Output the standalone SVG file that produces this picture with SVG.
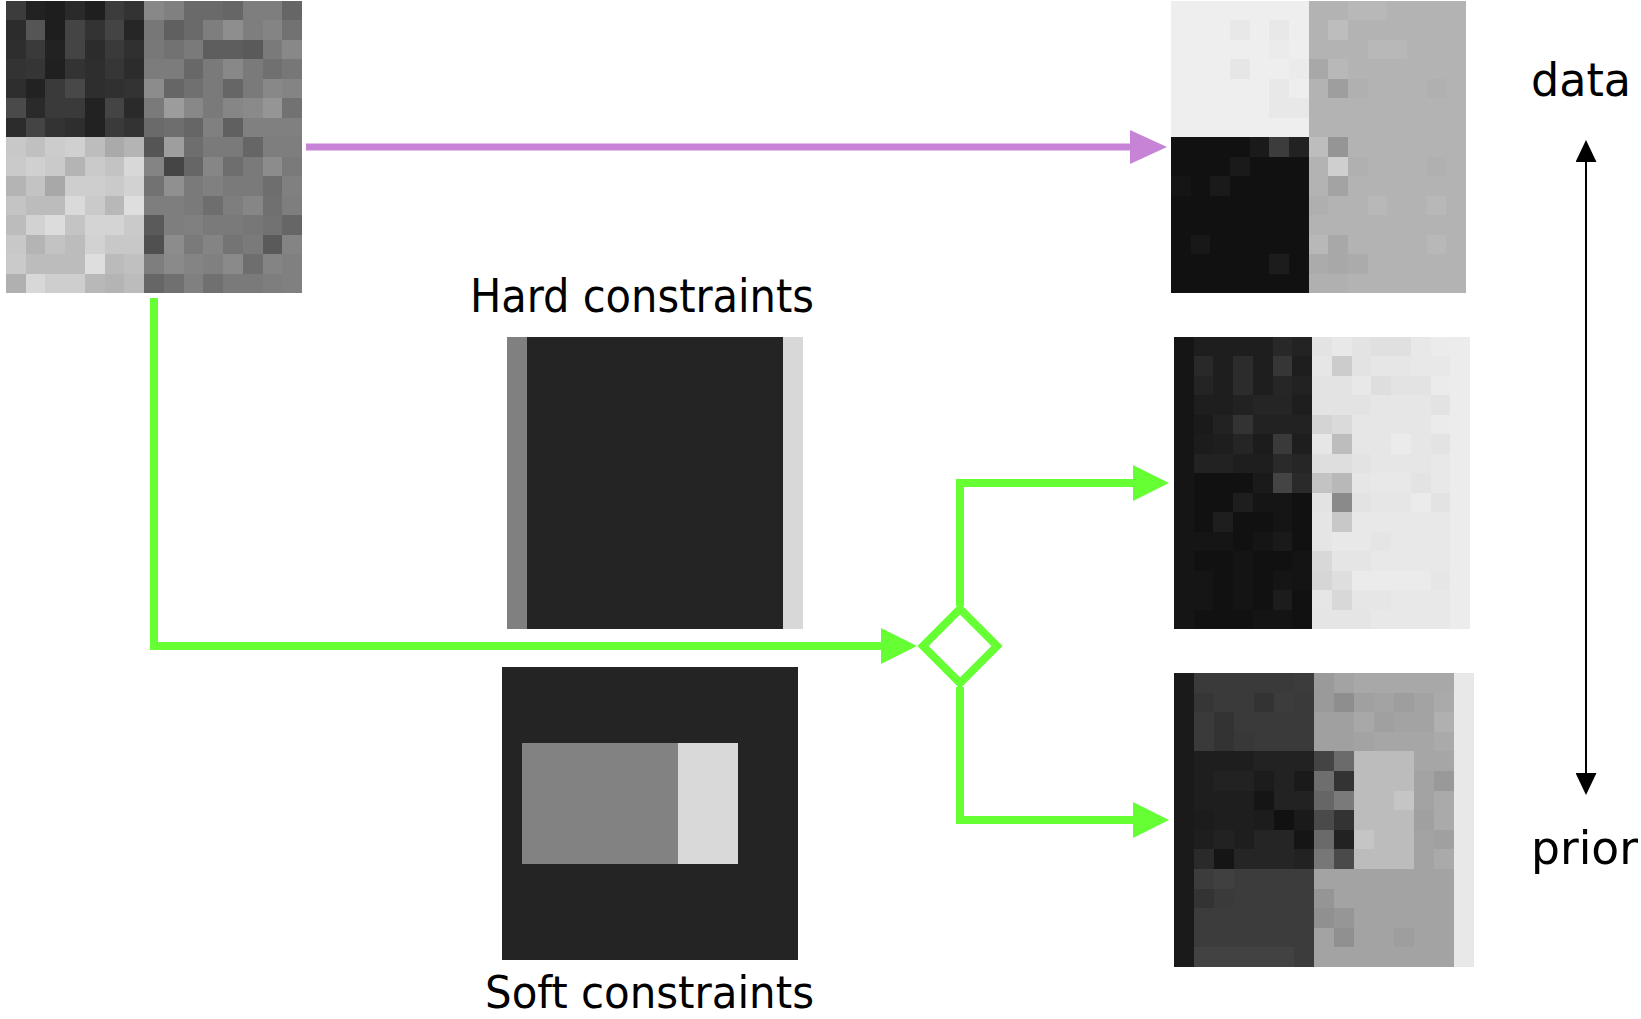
<svg xmlns="http://www.w3.org/2000/svg" width="1641" height="1019" viewBox="0 0 1641 1019">
<style>
.px{shape-rendering:crispEdges}
.lbl{font-family:"DejaVu Sans Condensed","DejaVu Sans",sans-serif;font-size:46px;fill:#000}
.gl{fill:none;stroke:#66ff33;stroke-width:8;stroke-linejoin:miter}
.pl{fill:none;stroke:#c783d5;stroke-width:7}
.bl{fill:none;stroke:#000;stroke-width:2}
</style>
<defs>
<marker id="ag" markerUnits="userSpaceOnUse" viewBox="0 0 36 36" refX="6" refY="18" markerWidth="36" markerHeight="36" orient="auto"><path d="M0,0 L36,18 L0,36 z" fill="#66ff33"/></marker>
<marker id="ap" markerUnits="userSpaceOnUse" viewBox="0 0 37 34" refX="6" refY="17" markerWidth="37" markerHeight="34" orient="auto"><path d="M0,0 L37,17 L0,34 z" fill="#c783d5"/></marker>
<marker id="ab" markerUnits="userSpaceOnUse" viewBox="0 0 22 21" refX="2" refY="10.5" markerWidth="22" markerHeight="21" orient="auto-start-reverse"><path d="M0,0 L22,10.5 L0,21 z" fill="#000"/></marker>
</defs>
<rect width="1641" height="1019" fill="#fff"/>

<g id="input-matrix" class="px" transform="translate(6,1) scale(19.733,19.467)">
<rect width="7" height="7" fill="#333"/><rect y="7" width="7" height="8" fill="#c4c4c4"/><rect x="7" width="8" height="15" fill="#777"/>
<rect x="0" y="0" width="1" height="1" fill="#3c3c3c"/><rect x="1" y="0" width="1" height="1" fill="#222"/><rect x="2" y="0" width="1" height="1" fill="#1e1e1e"/><rect x="3" y="0" width="1" height="1" fill="#2a2a2a"/><rect x="4" y="0" width="1" height="1" fill="#1f1f1f"/><rect x="5" y="0" width="1" height="1" fill="#3c3c3c"/><rect x="6" y="0" width="1" height="1" fill="#333"/><rect x="7" y="0" width="1" height="1" fill="#888"/><rect x="8" y="0" width="1" height="1" fill="#808080"/><rect x="9" y="0" width="1" height="1" fill="#6a6a6a"/><rect x="10" y="0" width="1" height="1" fill="#6a6a6a"/><rect x="11" y="0" width="1" height="1" fill="#666"/><rect x="12" y="0" width="1" height="1" fill="#7e7e7e"/><rect x="13" y="0" width="1" height="1" fill="#7e7e7e"/><rect x="14" y="0" width="1" height="1" fill="#666"/>
<rect x="0" y="1" width="1" height="1" fill="#2c2c2c"/><rect x="1" y="1" width="1" height="1" fill="#555"/><rect x="2" y="1" width="1" height="1" fill="#1e1e1e"/><rect x="3" y="1" width="1" height="1" fill="#444"/><rect x="4" y="1" width="1" height="1" fill="#333"/><rect x="5" y="1" width="1" height="1" fill="#444"/><rect x="6" y="1" width="1" height="1" fill="#262626"/><rect x="7" y="1" width="1" height="1" fill="#777"/><rect x="8" y="1" width="1" height="1" fill="#606060"/><rect x="9" y="1" width="1" height="1" fill="#6a6a6a"/><rect x="10" y="1" width="1" height="1" fill="#7e7e7e"/><rect x="11" y="1" width="1" height="1" fill="#8e8e8e"/><rect x="12" y="1" width="1" height="1" fill="#7e7e7e"/><rect x="13" y="1" width="1" height="1" fill="#848484"/><rect x="14" y="1" width="1" height="1" fill="#727272"/>
<rect x="0" y="2" width="1" height="1" fill="#2e2e2e"/><rect x="1" y="2" width="1" height="1" fill="#3a3a3a"/><rect x="2" y="2" width="1" height="1" fill="#222"/><rect x="3" y="2" width="1" height="1" fill="#444"/><rect x="4" y="2" width="1" height="1" fill="#2c2c2c"/><rect x="5" y="2" width="1" height="1" fill="#3a3a3a"/><rect x="6" y="2" width="1" height="1" fill="#303030"/><rect x="7" y="2" width="1" height="1" fill="#787878"/><rect x="8" y="2" width="1" height="1" fill="#727272"/><rect x="9" y="2" width="1" height="1" fill="#7a7a7a"/><rect x="10" y="2" width="1" height="1" fill="#5e5e5e"/><rect x="11" y="2" width="1" height="1" fill="#5e5e5e"/><rect x="12" y="2" width="1" height="1" fill="#5a5a5a"/><rect x="13" y="2" width="1" height="1" fill="#7a7a7a"/><rect x="14" y="2" width="1" height="1" fill="#888"/>
<rect x="0" y="3" width="1" height="1" fill="#333"/><rect x="1" y="3" width="1" height="1" fill="#353535"/><rect x="2" y="3" width="1" height="1" fill="#202020"/><rect x="3" y="3" width="1" height="1" fill="#333"/><rect x="4" y="3" width="1" height="1" fill="#2e2e2e"/><rect x="5" y="3" width="1" height="1" fill="#363636"/><rect x="6" y="3" width="1" height="1" fill="#2c2c2c"/><rect x="7" y="3" width="1" height="1" fill="#7c7c7c"/><rect x="8" y="3" width="1" height="1" fill="#7c7c7c"/><rect x="9" y="3" width="1" height="1" fill="#686868"/><rect x="10" y="3" width="1" height="1" fill="#7a7a7a"/><rect x="11" y="3" width="1" height="1" fill="#888"/><rect x="12" y="3" width="1" height="1" fill="#7a7a7a"/><rect x="13" y="3" width="1" height="1" fill="#707070"/><rect x="14" y="3" width="1" height="1" fill="#777"/>
<rect x="0" y="4" width="1" height="1" fill="#2e2e2e"/><rect x="1" y="4" width="1" height="1" fill="#222"/><rect x="2" y="4" width="1" height="1" fill="#3a3a3a"/><rect x="3" y="4" width="1" height="1" fill="#484848"/><rect x="4" y="4" width="1" height="1" fill="#2e2e2e"/><rect x="5" y="4" width="1" height="1" fill="#303030"/><rect x="6" y="4" width="1" height="1" fill="#333"/><rect x="7" y="4" width="1" height="1" fill="#8c8c8c"/><rect x="8" y="4" width="1" height="1" fill="#666"/><rect x="9" y="4" width="1" height="1" fill="#707070"/><rect x="10" y="4" width="1" height="1" fill="#7a7a7a"/><rect x="11" y="4" width="1" height="1" fill="#666"/><rect x="12" y="4" width="1" height="1" fill="#7a7a7a"/><rect x="13" y="4" width="1" height="1" fill="#888"/><rect x="14" y="4" width="1" height="1" fill="#848484"/>
<rect x="0" y="5" width="1" height="1" fill="#4a4a4a"/><rect x="1" y="5" width="1" height="1" fill="#2a2a2a"/><rect x="2" y="5" width="1" height="1" fill="#3a3a3a"/><rect x="3" y="5" width="1" height="1" fill="#3a3a3a"/><rect x="4" y="5" width="1" height="1" fill="#222"/><rect x="5" y="5" width="1" height="1" fill="#444"/><rect x="6" y="5" width="1" height="1" fill="#2a2a2a"/><rect x="7" y="5" width="1" height="1" fill="#7a7a7a"/><rect x="8" y="5" width="1" height="1" fill="#9c9c9c"/><rect x="9" y="5" width="1" height="1" fill="#888"/><rect x="10" y="5" width="1" height="1" fill="#7a7a7a"/><rect x="11" y="5" width="1" height="1" fill="#868686"/><rect x="12" y="5" width="1" height="1" fill="#8a8a8a"/><rect x="13" y="5" width="1" height="1" fill="#959595"/><rect x="14" y="5" width="1" height="1" fill="#727272"/>
<rect x="0" y="6" width="1" height="1" fill="#2c2c2c"/><rect x="1" y="6" width="1" height="1" fill="#444"/><rect x="2" y="6" width="1" height="1" fill="#333"/><rect x="3" y="6" width="1" height="1" fill="#2e2e2e"/><rect x="4" y="6" width="1" height="1" fill="#222"/><rect x="5" y="6" width="1" height="1" fill="#3a3a3a"/><rect x="6" y="6" width="1" height="1" fill="#333"/><rect x="7" y="6" width="1" height="1" fill="#6a6a6a"/><rect x="8" y="6" width="1" height="1" fill="#6e6e6e"/><rect x="9" y="6" width="1" height="1" fill="#666"/><rect x="10" y="6" width="1" height="1" fill="#808080"/><rect x="11" y="6" width="1" height="1" fill="#606060"/><rect x="12" y="6" width="1" height="1" fill="#808080"/><rect x="13" y="6" width="1" height="1" fill="#808080"/><rect x="14" y="6" width="1" height="1" fill="#808080"/>
<rect x="0" y="7" width="1" height="1" fill="#c8c8c8"/><rect x="1" y="7" width="1" height="1" fill="#c0c0c0"/><rect x="2" y="7" width="1" height="1" fill="#ccc"/><rect x="3" y="7" width="1" height="1" fill="#d0d0d0"/><rect x="4" y="7" width="1" height="1" fill="#bdbdbd"/><rect x="5" y="7" width="1" height="1" fill="#aaa"/><rect x="6" y="7" width="1" height="1" fill="#b4b4b4"/><rect x="7" y="7" width="1" height="1" fill="#555"/><rect x="8" y="7" width="1" height="1" fill="#9e9e9e"/><rect x="9" y="7" width="1" height="1" fill="#6e6e6e"/><rect x="10" y="7" width="1" height="1" fill="#7a7a7a"/><rect x="11" y="7" width="1" height="1" fill="#7a7a7a"/><rect x="12" y="7" width="1" height="1" fill="#666"/><rect x="13" y="7" width="1" height="1" fill="#7e7e7e"/><rect x="14" y="7" width="1" height="1" fill="#7e7e7e"/>
<rect x="0" y="8" width="1" height="1" fill="#cacaca"/><rect x="1" y="8" width="1" height="1" fill="#d0d0d0"/><rect x="2" y="8" width="1" height="1" fill="#cacaca"/><rect x="3" y="8" width="1" height="1" fill="#b4b4b4"/><rect x="4" y="8" width="1" height="1" fill="#cacaca"/><rect x="5" y="8" width="1" height="1" fill="#c3c3c3"/><rect x="6" y="8" width="1" height="1" fill="#d8d8d8"/><rect x="7" y="8" width="1" height="1" fill="#848484"/><rect x="8" y="8" width="1" height="1" fill="#454545"/><rect x="9" y="8" width="1" height="1" fill="#666"/><rect x="10" y="8" width="1" height="1" fill="#868686"/><rect x="11" y="8" width="1" height="1" fill="#6e6e6e"/><rect x="12" y="8" width="1" height="1" fill="#7a7a7a"/><rect x="13" y="8" width="1" height="1" fill="#8c8c8c"/><rect x="14" y="8" width="1" height="1" fill="#7a7a7a"/>
<rect x="0" y="9" width="1" height="1" fill="#b4b4b4"/><rect x="1" y="9" width="1" height="1" fill="#c3c3c3"/><rect x="2" y="9" width="1" height="1" fill="#a8a8a8"/><rect x="3" y="9" width="1" height="1" fill="#cecece"/><rect x="4" y="9" width="1" height="1" fill="#cecece"/><rect x="5" y="9" width="1" height="1" fill="#cacaca"/><rect x="6" y="9" width="1" height="1" fill="#d2d2d2"/><rect x="7" y="9" width="1" height="1" fill="#727272"/><rect x="8" y="9" width="1" height="1" fill="#909090"/><rect x="9" y="9" width="1" height="1" fill="#7a7a7a"/><rect x="10" y="9" width="1" height="1" fill="#808080"/><rect x="11" y="9" width="1" height="1" fill="#7a7a7a"/><rect x="12" y="9" width="1" height="1" fill="#7a7a7a"/><rect x="13" y="9" width="1" height="1" fill="#6e6e6e"/><rect x="14" y="9" width="1" height="1" fill="#808080"/>
<rect x="0" y="10" width="1" height="1" fill="#c4c4c4"/><rect x="1" y="10" width="1" height="1" fill="#bcbcbc"/><rect x="2" y="10" width="1" height="1" fill="#bcbcbc"/><rect x="3" y="10" width="1" height="1" fill="#dadada"/><rect x="4" y="10" width="1" height="1" fill="#cacaca"/><rect x="5" y="10" width="1" height="1" fill="#b8b8b8"/><rect x="6" y="10" width="1" height="1" fill="#dedede"/><rect x="7" y="10" width="1" height="1" fill="#7e7e7e"/><rect x="8" y="10" width="1" height="1" fill="#7e7e7e"/><rect x="9" y="10" width="1" height="1" fill="#7a7a7a"/><rect x="10" y="10" width="1" height="1" fill="#6e6e6e"/><rect x="11" y="10" width="1" height="1" fill="#7e7e7e"/><rect x="12" y="10" width="1" height="1" fill="#868686"/><rect x="13" y="10" width="1" height="1" fill="#707070"/><rect x="14" y="10" width="1" height="1" fill="#7e7e7e"/>
<rect x="0" y="11" width="1" height="1" fill="#bcbcbc"/><rect x="1" y="11" width="1" height="1" fill="#d2d2d2"/><rect x="2" y="11" width="1" height="1" fill="#dcdcdc"/><rect x="3" y="11" width="1" height="1" fill="#c4c4c4"/><rect x="4" y="11" width="1" height="1" fill="#d4d4d4"/><rect x="5" y="11" width="1" height="1" fill="#d4d4d4"/><rect x="6" y="11" width="1" height="1" fill="#cacaca"/><rect x="7" y="11" width="1" height="1" fill="#5a5a5a"/><rect x="8" y="11" width="1" height="1" fill="#7e7e7e"/><rect x="9" y="11" width="1" height="1" fill="#808080"/><rect x="10" y="11" width="1" height="1" fill="#7a7a7a"/><rect x="11" y="11" width="1" height="1" fill="#7a7a7a"/><rect x="12" y="11" width="1" height="1" fill="#777"/><rect x="13" y="11" width="1" height="1" fill="#727272"/><rect x="14" y="11" width="1" height="1" fill="#666"/>
<rect x="0" y="12" width="1" height="1" fill="#c8c8c8"/><rect x="1" y="12" width="1" height="1" fill="#b4b4b4"/><rect x="2" y="12" width="1" height="1" fill="#c3c3c3"/><rect x="3" y="12" width="1" height="1" fill="#bcbcbc"/><rect x="4" y="12" width="1" height="1" fill="#d2d2d2"/><rect x="5" y="12" width="1" height="1" fill="#c8c8c8"/><rect x="6" y="12" width="1" height="1" fill="#c8c8c8"/><rect x="7" y="12" width="1" height="1" fill="#505050"/><rect x="8" y="12" width="1" height="1" fill="#8c8c8c"/><rect x="9" y="12" width="1" height="1" fill="#7a7a7a"/><rect x="10" y="12" width="1" height="1" fill="#848484"/><rect x="11" y="12" width="1" height="1" fill="#747474"/><rect x="12" y="12" width="1" height="1" fill="#7a7a7a"/><rect x="13" y="12" width="1" height="1" fill="#5a5a5a"/><rect x="14" y="12" width="1" height="1" fill="#848484"/>
<rect x="0" y="13" width="1" height="1" fill="#cacaca"/><rect x="1" y="13" width="1" height="1" fill="#bcbcbc"/><rect x="2" y="13" width="1" height="1" fill="#bcbcbc"/><rect x="3" y="13" width="1" height="1" fill="#bcbcbc"/><rect x="4" y="13" width="1" height="1" fill="#dedede"/><rect x="5" y="13" width="1" height="1" fill="#bbb"/><rect x="6" y="13" width="1" height="1" fill="#c0c0c0"/><rect x="7" y="13" width="1" height="1" fill="#7e7e7e"/><rect x="8" y="13" width="1" height="1" fill="#8a8a8a"/><rect x="9" y="13" width="1" height="1" fill="#848484"/><rect x="10" y="13" width="1" height="1" fill="#808080"/><rect x="11" y="13" width="1" height="1" fill="#8a8a8a"/><rect x="12" y="13" width="1" height="1" fill="#6e6e6e"/><rect x="13" y="13" width="1" height="1" fill="#848484"/><rect x="14" y="13" width="1" height="1" fill="#808080"/>
<rect x="0" y="14" width="1" height="1" fill="#b0b0b0"/><rect x="1" y="14" width="1" height="1" fill="#d8d8d8"/><rect x="2" y="14" width="1" height="1" fill="#cecece"/><rect x="3" y="14" width="1" height="1" fill="#cecece"/><rect x="4" y="14" width="1" height="1" fill="#b8b8b8"/><rect x="5" y="14" width="1" height="1" fill="#b4b4b4"/><rect x="6" y="14" width="1" height="1" fill="#bcbcbc"/><rect x="7" y="14" width="1" height="1" fill="#666"/><rect x="8" y="14" width="1" height="1" fill="#707070"/><rect x="9" y="14" width="1" height="1" fill="#808080"/><rect x="10" y="14" width="1" height="1" fill="#707070"/><rect x="11" y="14" width="1" height="1" fill="#7a7a7a"/><rect x="12" y="14" width="1" height="1" fill="#7a7a7a"/><rect x="13" y="14" width="1" height="1" fill="#7e7e7e"/><rect x="14" y="14" width="1" height="1" fill="#808080"/>
</g>

<g id="result-data" class="px" transform="translate(1171,1) scale(19.667,19.467)">
<rect width="7" height="7" fill="#eee"/><rect y="7" width="7" height="8" fill="#111"/><rect x="7" width="8" height="15" fill="#b3b3b3"/>
<rect x="3" y="1" width="1" height="1" fill="#e8e8e8"/><rect x="5" y="1" width="1" height="1" fill="#e8e8e8"/><rect x="5" y="2" width="1" height="1" fill="#ebebeb"/><rect x="3" y="3" width="1" height="1" fill="#e6e6e6"/><rect x="6" y="3" width="1" height="1" fill="#ebebeb"/><rect x="5" y="4" width="1" height="1" fill="#e8e8e8"/><rect x="5" y="5" width="1" height="1" fill="#e8e8e8"/><rect x="6" y="5" width="1" height="1" fill="#e8e8e8"/>
<rect x="9" y="0" width="1" height="1" fill="#b8b8b8"/><rect x="10" y="0" width="1" height="1" fill="#b8b8b8"/><rect x="8" y="1" width="1" height="1" fill="#bdbdbd"/><rect x="10" y="2" width="1" height="1" fill="#b8b8b8"/><rect x="11" y="2" width="1" height="1" fill="#b8b8b8"/><rect x="7" y="3" width="1" height="1" fill="#a8a8a8"/><rect x="8" y="3" width="1" height="1" fill="#b8b8b8"/><rect x="8" y="4" width="1" height="1" fill="#9e9e9e"/><rect x="9" y="4" width="1" height="1" fill="#b0b0b0"/><rect x="13" y="4" width="1" height="1" fill="#b0b0b0"/><rect x="7" y="7" width="1" height="1" fill="#bdbdbd"/><rect x="8" y="7" width="1" height="1" fill="#959595"/><rect x="8" y="8" width="1" height="1" fill="#cfcfcf"/><rect x="9" y="8" width="1" height="1" fill="#b0b0b0"/><rect x="13" y="8" width="1" height="1" fill="#b0b0b0"/><rect x="8" y="9" width="1" height="1" fill="#a3a3a3"/><rect x="7" y="10" width="1" height="1" fill="#afafaf"/><rect x="10" y="10" width="1" height="1" fill="#b8b8b8"/><rect x="13" y="10" width="1" height="1" fill="#b8b8b8"/><rect x="7" y="12" width="1" height="1" fill="#b8b8b8"/><rect x="8" y="12" width="1" height="1" fill="#a8a8a8"/><rect x="13" y="12" width="1" height="1" fill="#b8b8b8"/><rect x="7" y="13" width="1" height="1" fill="#ababab"/><rect x="8" y="13" width="1" height="1" fill="#a8a8a8"/><rect x="9" y="13" width="1" height="1" fill="#ababab"/><rect x="7" y="14" width="1" height="1" fill="#b0b0b0"/><rect x="8" y="14" width="1" height="1" fill="#b0b0b0"/>
<rect x="4" y="7" width="1" height="1" fill="#1a1a1a"/><rect x="5" y="7" width="1" height="1" fill="#3c3c3c"/><rect x="6" y="7" width="1" height="1" fill="#222"/><rect x="3" y="8" width="1" height="1" fill="#1a1a1a"/><rect x="0" y="9" width="1" height="1" fill="#151515"/><rect x="2" y="9" width="1" height="1" fill="#1a1a1a"/><rect x="1" y="12" width="1" height="1" fill="#181818"/><rect x="5" y="13" width="1" height="1" fill="#1c1c1c"/>
</g>

<g id="result-mid" class="px" transform="translate(1174,337) scale(19.733,19.467)">
<rect width="1" height="15" fill="#151515"/><rect x="14" width="1" height="15" fill="#ececec"/><rect x="1" width="6" height="7" fill="#1e1e1e"/><rect x="1" y="7" width="6" height="8" fill="#111"/><rect x="7" width="7" height="9" fill="#e6e6e6"/><rect x="7" y="9" width="7" height="6" fill="#e8e8e8"/>
<rect x="5" y="0" width="1" height="1" fill="#282828"/><rect x="6" y="0" width="1" height="1" fill="#232323"/>
<rect x="1" y="1" width="1" height="1" fill="#292929"/><rect x="3" y="1" width="1" height="1" fill="#2c2c2c"/><rect x="5" y="1" width="1" height="1" fill="#363636"/>
<rect x="1" y="2" width="1" height="1" fill="#242424"/><rect x="3" y="2" width="1" height="1" fill="#2c2c2c"/><rect x="5" y="2" width="1" height="1" fill="#262626"/><rect x="6" y="2" width="1" height="1" fill="#222"/>
<rect x="3" y="3" width="1" height="1" fill="#222"/><rect x="4" y="3" width="1" height="1" fill="#252525"/><rect x="5" y="3" width="1" height="1" fill="#252525"/>
<rect x="1" y="4" width="1" height="1" fill="#1a1a1a"/><rect x="2" y="4" width="1" height="1" fill="#222"/><rect x="3" y="4" width="1" height="1" fill="#333"/><rect x="4" y="4" width="1" height="1" fill="#222"/><rect x="5" y="4" width="1" height="1" fill="#222"/><rect x="6" y="4" width="1" height="1" fill="#222"/>
<rect x="1" y="5" width="1" height="1" fill="#1c1c1c"/><rect x="3" y="5" width="1" height="1" fill="#252525"/><rect x="4" y="5" width="1" height="1" fill="#1c1c1c"/><rect x="5" y="5" width="1" height="1" fill="#3a3a3a"/>
<rect x="1" y="6" width="1" height="1" fill="#222"/><rect x="2" y="6" width="1" height="1" fill="#222"/><rect x="5" y="6" width="1" height="1" fill="#2a2a2a"/><rect x="6" y="6" width="1" height="1" fill="#262626"/>
<rect x="4" y="7" width="1" height="1" fill="#1a1a1a"/><rect x="5" y="7" width="1" height="1" fill="#444"/><rect x="6" y="7" width="1" height="1" fill="#2a2a2a"/>
<rect x="3" y="8" width="1" height="1" fill="#1e1e1e"/><rect x="4" y="8" width="1" height="1" fill="#151515"/><rect x="5" y="8" width="1" height="1" fill="#151515"/>
<rect x="2" y="9" width="1" height="1" fill="#1e1e1e"/><rect x="5" y="9" width="1" height="1" fill="#151515"/>
<rect x="1" y="10" width="1" height="1" fill="#151515"/><rect x="2" y="10" width="1" height="1" fill="#151515"/><rect x="4" y="10" width="1" height="1" fill="#151515"/><rect x="5" y="10" width="1" height="1" fill="#1a1a1a"/>
<rect x="3" y="11" width="1" height="1" fill="#141414"/><rect x="6" y="11" width="1" height="1" fill="#141414"/>
<rect x="1" y="12" width="1" height="1" fill="#151515"/><rect x="3" y="12" width="1" height="1" fill="#141414"/><rect x="5" y="12" width="1" height="1" fill="#151515"/><rect x="6" y="12" width="1" height="1" fill="#141414"/>
<rect x="1" y="13" width="1" height="1" fill="#151515"/><rect x="3" y="13" width="1" height="1" fill="#141414"/><rect x="5" y="13" width="1" height="1" fill="#1c1c1c"/>
<rect x="4" y="14" width="1" height="1" fill="#141414"/><rect x="5" y="14" width="1" height="1" fill="#141414"/>
<rect x="7" y="0" width="1" height="1" fill="#e3e3e3"/><rect x="8" y="0" width="1" height="1" fill="#e8e8e8"/><rect x="9" y="0" width="1" height="1" fill="#e3e3e3"/><rect x="10" y="0" width="1" height="1" fill="#e0e0e0"/><rect x="11" y="0" width="1" height="1" fill="#e0e0e0"/><rect x="12" y="0" width="1" height="1" fill="#e8e8e8"/><rect x="13" y="0" width="1" height="1" fill="#ebebeb"/>
<rect x="8" y="1" width="1" height="1" fill="#ccc"/><rect x="9" y="1" width="1" height="1" fill="#e3e3e3"/><rect x="12" y="1" width="1" height="1" fill="#e8e8e8"/><rect x="13" y="1" width="1" height="1" fill="#e8e8e8"/>
<rect x="7" y="2" width="1" height="1" fill="#e3e3e3"/><rect x="8" y="2" width="1" height="1" fill="#e3e3e3"/><rect x="9" y="2" width="1" height="1" fill="#e8e8e8"/><rect x="10" y="2" width="1" height="1" fill="#dedede"/><rect x="11" y="2" width="1" height="1" fill="#e3e3e3"/><rect x="12" y="2" width="1" height="1" fill="#e3e3e3"/><rect x="13" y="2" width="1" height="1" fill="#ebebeb"/>
<rect x="7" y="3" width="1" height="1" fill="#e3e3e3"/><rect x="8" y="3" width="1" height="1" fill="#e3e3e3"/><rect x="9" y="3" width="1" height="1" fill="#e3e3e3"/><rect x="13" y="3" width="1" height="1" fill="#e3e3e3"/>
<rect x="7" y="4" width="1" height="1" fill="#d4d4d4"/><rect x="8" y="4" width="1" height="1" fill="#dadada"/><rect x="13" y="4" width="1" height="1" fill="#ebebeb"/>
<rect x="8" y="5" width="1" height="1" fill="#bdbdbd"/><rect x="11" y="5" width="1" height="1" fill="#ebebeb"/><rect x="13" y="5" width="1" height="1" fill="#e3e3e3"/>
<rect x="7" y="6" width="1" height="1" fill="#dedede"/><rect x="8" y="6" width="1" height="1" fill="#dedede"/><rect x="9" y="6" width="1" height="1" fill="#e3e3e3"/><rect x="13" y="6" width="1" height="1" fill="#e8e8e8"/>
<rect x="7" y="7" width="1" height="1" fill="#c3c3c3"/><rect x="8" y="7" width="1" height="1" fill="#b8b8b8"/><rect x="10" y="7" width="1" height="1" fill="#e8e8e8"/><rect x="11" y="7" width="1" height="1" fill="#e8e8e8"/><rect x="12" y="7" width="1" height="1" fill="#e3e3e3"/><rect x="13" y="7" width="1" height="1" fill="#e8e8e8"/>
<rect x="7" y="8" width="1" height="1" fill="#e3e3e3"/><rect x="8" y="8" width="1" height="1" fill="#8a8a8a"/><rect x="9" y="8" width="1" height="1" fill="#e3e3e3"/><rect x="12" y="8" width="1" height="1" fill="#ebebeb"/><rect x="13" y="8" width="1" height="1" fill="#e3e3e3"/>
<rect x="7" y="9" width="1" height="1" fill="#e5e5e5"/><rect x="8" y="9" width="1" height="1" fill="#c8c8c8"/>
<rect x="7" y="10" width="1" height="1" fill="#e5e5e5"/><rect x="10" y="10" width="1" height="1" fill="#e5e5e5"/>
<rect x="7" y="11" width="1" height="1" fill="#d8d8d8"/><rect x="8" y="11" width="1" height="1" fill="#e5e5e5"/><rect x="9" y="11" width="1" height="1" fill="#e5e5e5"/>
<rect x="7" y="12" width="1" height="1" fill="#d6d6d6"/><rect x="8" y="12" width="1" height="1" fill="#dedede"/><rect x="9" y="12" width="4" height="1" fill="#ebebeb"/><rect x="13" y="12" width="1" height="1" fill="#e6e6e6"/>
<rect x="7" y="13" width="1" height="1" fill="#e6e6e6"/><rect x="8" y="13" width="1" height="1" fill="#d8d8d8"/><rect x="9" y="13" width="2" height="1" fill="#e6e6e6"/>
<rect x="7" y="14" width="3" height="1" fill="#e5e5e5"/>
</g>

<g id="result-prior" class="px" transform="translate(1174,673) scale(20,19.6)">
<rect width="1" height="15" fill="#1a1a1a"/><rect x="14" width="1" height="15" fill="#e8e8e8"/><rect x="1" width="6" height="4" fill="#3a3a3a"/><rect x="1" y="4" width="6" height="6" fill="#1e1e1e"/><rect x="1" y="10" width="6" height="5" fill="#3c3c3c"/><rect x="7" width="7" height="15" fill="#a3a3a3"/><rect x="9" y="4" width="3" height="6" fill="#bcbcbc"/>
<rect x="6" y="0" width="1" height="1" fill="#3c3c3c"/><rect x="1" y="1" width="1" height="1" fill="#363636"/><rect x="4" y="1" width="1" height="1" fill="#333"/><rect x="5" y="1" width="1" height="1" fill="#3c3c3c"/><rect x="2" y="2" width="1" height="1" fill="#333"/><rect x="2" y="3" width="1" height="1" fill="#333"/><rect x="3" y="3" width="1" height="1" fill="#383838"/>
<rect x="4" y="4" width="3" height="1" fill="#222"/>
<rect x="2" y="5" width="1" height="1" fill="#222"/><rect x="3" y="5" width="1" height="1" fill="#222"/><rect x="4" y="5" width="1" height="1" fill="#1c1c1c"/><rect x="5" y="5" width="1" height="1" fill="#222"/><rect x="6" y="5" width="1" height="1" fill="#1a1a1a"/>
<rect x="4" y="6" width="1" height="1" fill="#151515"/><rect x="5" y="6" width="1" height="1" fill="#222"/><rect x="6" y="6" width="1" height="1" fill="#222"/>
<rect x="1" y="7" width="1" height="1" fill="#1c1c1c"/><rect x="4" y="7" width="1" height="1" fill="#1c1c1c"/><rect x="5" y="7" width="1" height="1" fill="#111"/><rect x="6" y="7" width="1" height="1" fill="#1a1a1a"/>
<rect x="2" y="8" width="1" height="1" fill="#222"/><rect x="4" y="8" width="1" height="1" fill="#252525"/><rect x="5" y="8" width="1" height="1" fill="#252525"/><rect x="6" y="8" width="1" height="1" fill="#151515"/>
<rect x="1" y="9" width="1" height="1" fill="#2a2a2a"/><rect x="2" y="9" width="1" height="1" fill="#151515"/><rect x="3" y="9" width="3" height="1" fill="#252525"/><rect x="6" y="9" width="1" height="1" fill="#222"/>
<rect x="2" y="10" width="1" height="1" fill="#404040"/><rect x="1" y="11" width="1" height="1" fill="#333"/><rect x="2" y="11" width="1" height="1" fill="#3a3a3a"/><rect x="1" y="14" width="5" height="1" fill="#424242"/>
<rect x="7" y="0" width="1" height="1" fill="#9a9a9a"/><rect x="9" y="0" width="5" height="1" fill="#a8a8a8"/>
<rect x="7" y="1" width="1" height="1" fill="#9a9a9a"/><rect x="8" y="1" width="1" height="1" fill="#8e8e8e"/><rect x="9" y="1" width="1" height="1" fill="#a0a0a0"/><rect x="11" y="1" width="1" height="1" fill="#9e9e9e"/><rect x="13" y="1" width="1" height="1" fill="#aaa"/>
<rect x="7" y="2" width="1" height="1" fill="#a0a0a0"/><rect x="8" y="2" width="1" height="1" fill="#a0a0a0"/><rect x="9" y="2" width="1" height="1" fill="#a8a8a8"/><rect x="10" y="2" width="1" height="1" fill="#a0a0a0"/><rect x="13" y="2" width="1" height="1" fill="#b0b0b0"/>
<rect x="7" y="3" width="1" height="1" fill="#a0a0a0"/><rect x="8" y="3" width="1" height="1" fill="#a0a0a0"/><rect x="10" y="3" width="3" height="1" fill="#a6a6a6"/><rect x="13" y="3" width="1" height="1" fill="#aaa"/>
<rect x="7" y="4" width="1" height="1" fill="#444"/><rect x="8" y="4" width="1" height="1" fill="#6b6b6b"/>
<rect x="7" y="5" width="1" height="1" fill="#6e6e6e"/><rect x="8" y="5" width="1" height="1" fill="#333"/>
<rect x="7" y="6" width="1" height="1" fill="#666"/><rect x="8" y="6" width="1" height="1" fill="#7a7a7a"/>
<rect x="7" y="7" width="1" height="1" fill="#4a4a4a"/><rect x="8" y="7" width="1" height="1" fill="#333"/>
<rect x="7" y="8" width="1" height="1" fill="#6a6a6a"/><rect x="8" y="8" width="1" height="1" fill="#222"/>
<rect x="7" y="9" width="1" height="1" fill="#777"/><rect x="8" y="9" width="1" height="1" fill="#4a4a4a"/>
<rect x="11" y="6" width="1" height="1" fill="#c5c5c5"/><rect x="9" y="8" width="1" height="1" fill="#c5c5c5"/>
<rect x="12" y="4" width="1" height="1" fill="#a6a6a6"/><rect x="13" y="4" width="1" height="1" fill="#a6a6a6"/><rect x="13" y="5" width="1" height="1" fill="#999"/><rect x="13" y="6" width="1" height="1" fill="#aaa"/><rect x="12" y="7" width="1" height="1" fill="#a0a0a0"/><rect x="13" y="7" width="1" height="1" fill="#aaa"/><rect x="13" y="8" width="1" height="1" fill="#a0a0a0"/><rect x="13" y="9" width="1" height="1" fill="#aaa"/>
<rect x="7" y="11" width="1" height="1" fill="#959595"/><rect x="7" y="12" width="1" height="1" fill="#909090"/><rect x="8" y="12" width="1" height="1" fill="#969696"/><rect x="8" y="13" width="1" height="1" fill="#909090"/><rect x="11" y="13" width="1" height="1" fill="#9e9e9e"/>
</g>

<g id="hard-constraints" class="px">
<rect x="507" y="337" width="20" height="292" fill="#808080"/>
<rect x="527" y="337" width="256" height="292" fill="#242424"/>
<rect x="783" y="337" width="20" height="292" fill="#d8d8d8"/>
</g>
<g id="soft-constraints" class="px">
<rect x="502" y="667" width="296" height="293" fill="#242424"/>
<rect x="522" y="743" width="156" height="121" fill="#828282"/>
<rect x="678" y="743" width="60" height="121" fill="#d9d9d9"/>
</g>

<g id="merge">
<polygon points="923,646 960,609 997,646 960,683" class="gl"/>
</g>

<g id="connectors">
<path d="M306,147 H1136" class="pl" marker-end="url(#ap)"/>
<path d="M154,298 V646 H887" class="gl" marker-end="url(#ag)"/>
<path d="M960,606 V483 H1139" class="gl" marker-end="url(#ag)"/>
<path d="M960,687 V820 H1139" class="gl" marker-end="url(#ag)"/>
<path d="M1586,160 V775" class="bl" marker-start="url(#ab)" marker-end="url(#ab)"/>
</g>

<g id="labels">
<text class="lbl" x="470" y="312" textLength="344" lengthAdjust="spacingAndGlyphs">Hard constraints</text>
<text class="lbl" x="485" y="1008" style="font-size:44px" textLength="329" lengthAdjust="spacingAndGlyphs">Soft constraints</text>
<text class="lbl" x="1531" y="96" textLength="100" lengthAdjust="spacingAndGlyphs">data</text>
<text class="lbl" x="1531" y="864" textLength="107" lengthAdjust="spacingAndGlyphs">prior</text>
</g>
</svg>
